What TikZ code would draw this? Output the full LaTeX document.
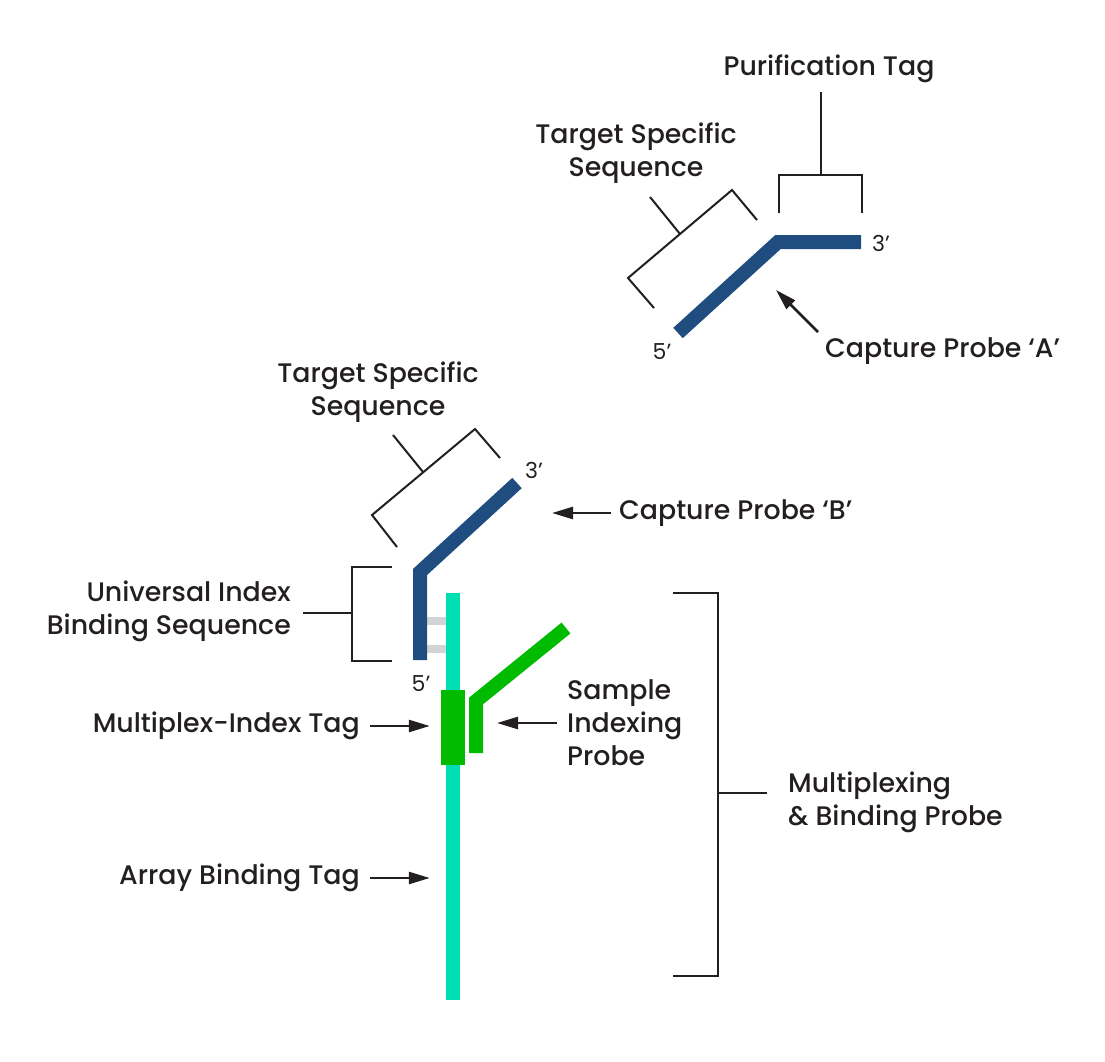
\documentclass[tikz,border=0pt]{standalone}
\usepackage{fontspec}
\setmainfont{Poppins}[UprightFont={* Medium}]
\newfontfamily\endfont{Poppins}
\usepackage{xcolor}
\usetikzlibrary{arrows.meta}
\definecolor{probeblue}{RGB}{31,77,128}
\definecolor{arrayteal}{RGB}{0,222,180}
\definecolor{indexgreen}{RGB}{0,187,0}
\definecolor{runggray}{RGB}{210,211,212}
\definecolor{inkdark}{RGB}{35,31,32}

\begin{document}
\begin{tikzpicture}[
  x=1pt, y=-1pt,
  lbl/.style={inner sep=0pt, text=inkdark, font=\fontsize{26.8}{33}\selectfont, align=center},
  endlbl/.style={inner sep=0pt, text=inkdark, font=\endfont\fontsize{22}{24}\selectfont},
  probe/.style={line width=14pt, probeblue, line join=miter},
  samplepr/.style={line width=14pt, indexgreen, line join=miter},
  bracket/.style={line width=2pt, inkdark},
  arrow/.style={-{Triangle[length=21pt,width=12pt]}, line width=2.5pt, inkdark},
  rung/.style={line width=8pt, runggray},
  tagbox/.style={rectangle, fill=indexgreen, inner sep=0pt, minimum width=24pt, minimum height=75pt},
  arraytag/.style={rectangle, fill=arrayteal, inner sep=0pt, minimum width=14pt, minimum height=407pt}
]
\useasboundingbox (0,0) rectangle (1105,1061);

% capture probe A
\draw [probe] (678,333) -- (778,242) -- (861,242);
\node (a3) [endlbl, anchor=west] at (872,243) {3’};
\node (a5) [endlbl] at (662,352) {5’};
\draw [bracket] (779,213) -- (779,175) -- (862,175) -- (862,213);
\draw [bracket] (821,175) -- (821,92);
\node (purif) [lbl] at (829,69) {Purification Tag};
\draw [bracket] (654,308) -- (628,278) -- (732,190) -- (757,220);
\draw [bracket] (680,234) -- (650,197);
\node (tssA) [lbl] at (636,153) {Target Specific\\Sequence};
\node (capA) [lbl, anchor=west] at (825,351) {Capture Probe ‘A’};
\coordinate (capAtip) at (776,290);
\draw [arrow] ([shift={(-7,-19)}]capA.west) -- (capAtip);

% capture probe B
\draw [rung] (427,621) -- (446,621);
\draw [rung] (427,649) -- (446,649);
\draw [probe] (517,483) -- (420,572) -- (420,660);
\node (b3) [endlbl, anchor=west] at (525,470) {3’};
\node (b5) [endlbl] at (421,684) {5’};
\draw [bracket] (397,547) -- (372,515) -- (475,429) -- (500,458);
\draw [bracket] (423,472) -- (393,435);
\node (tssB) [lbl] at (378,392) {Target Specific\\Sequence};
\node (capB) [lbl, anchor=west] at (619,513) {Capture Probe ‘B’};
\coordinate (capBtip) at (552,513);
\draw [arrow] ([xshift=-8pt]capB.west) -- (capBtip);
\draw [bracket] (392,567) -- (352,567) -- (352,661) -- (392,661);
\draw [bracket] (352,613) -- (303,613);
\node (uibs) [lbl, anchor=east, align=right] at (291,611) {Universal Index\\Binding Sequence};

% multiplexing & binding probe
\node (abt) [arraytag] at (453,796.5) {};
\node (mit) [tagbox] at (453,727.5) {};
\draw [samplepr] (476,753) -- (476,701) -- (566,628);
\node (mitlbl) [lbl, anchor=east] at (360,726) {Multiplex-Index Tag};
\draw [arrow, shorten >=11pt] ([xshift=10pt]mitlbl.east) -- (mitlbl.east -| mit.west);
\node (sip) [lbl, anchor=west, align=left] at (567,723) {Sample\\Indexing\\Probe};
\coordinate (siptip) at (497,723);
\draw [arrow] ([xshift=-10pt]sip.west) -- (siptip);
\node (abtlbl) [lbl, anchor=east] at (360,878) {Array Binding Tag};
\draw [arrow, shorten >=16pt] ([xshift=10pt]abtlbl.east) -- (abtlbl.east -| abt.west);
\draw [bracket] (673,593) -- (718,593) -- (718,976) -- (673,976);
\draw [bracket] (718,793) -- (767,793);
\node (mbp) [lbl, anchor=west, align=left] at (788,802) {Multiplexing\\\& Binding Probe};
\end{tikzpicture}
\end{document}
